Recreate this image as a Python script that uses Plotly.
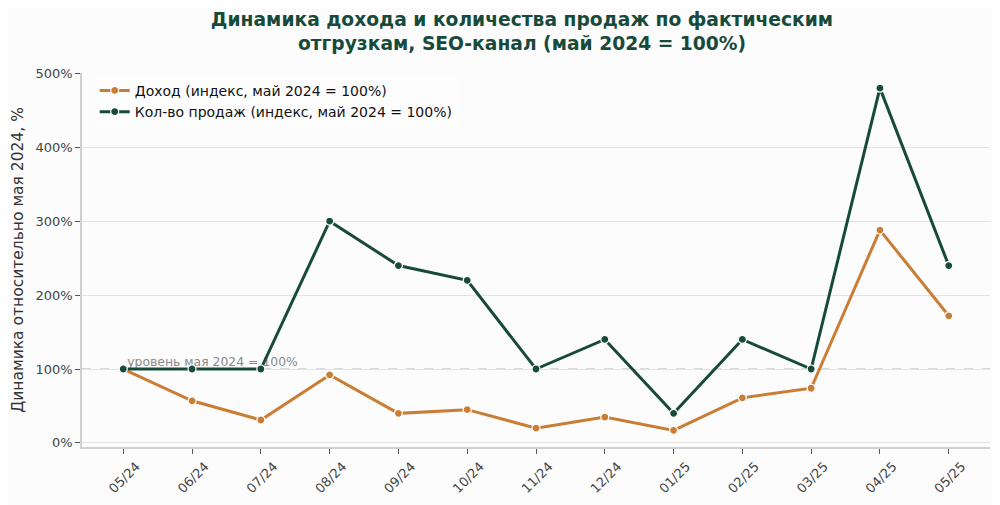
import plotly.graph_objects as go

months = ["05/24", "06/24", "07/24", "08/24", "09/24", "10/24", "11/24",
          "12/24", "01/25", "02/25", "03/25", "04/25", "05/25"]
revenue_idx = [100, 57, 31, 92, 40, 45, 20, 35, 17, 61, 74, 288, 172]
sales_idx = [100, 100, 100, 300, 240, 220, 100, 140, 40, 140, 100, 480, 240]
y_ticks = [0, 100, 200, 300, 400, 500]
y_tick_labels = ["0%", "100%", "200%", "300%", "400%", "500%"]

ORANGE = "#c97d35"
GREEN = "#184a3b"
FONT = "DejaVu Sans"

fig = go.Figure()

# reference label (drawn first so lines sit on top)
fig.add_trace(go.Scatter(
    x=[months[0]], y=[100], mode="text",
    text=[" уровень мая 2024 = 100%"], textposition="top right",
    textfont=dict(family=FONT, size=12.4, color="#8a8a8a"),
    showlegend=False, hoverinfo="skip", cliponaxis=False,
))

fig.add_trace(go.Scatter(
    x=months, y=revenue_idx, mode="lines+markers",
    name="Доход (индекс, май 2024 = 100%)",
    line=dict(color=ORANGE, width=3),
    marker=dict(size=8, color=ORANGE, line=dict(color="white", width=1.2)),
))
fig.add_trace(go.Scatter(
    x=months, y=sales_idx, mode="lines+markers",
    name="Кол-во продаж (индекс, май 2024 = 100%)",
    line=dict(color=GREEN, width=3),
    marker=dict(size=8, color=GREEN, line=dict(color="white", width=1.2)),
))

fig.add_shape(type="line", xref="paper", x0=0, x1=1, yref="y", y0=100, y1=100,
              line=dict(color="#b5b5b5", width=1, dash="dash"), layer="below")

fig.update_layout(
    width=1000, height=505,
    paper_bgcolor="#fcfcfc", plot_bgcolor="#fcfcfc",
    margin=dict(l=74, r=18, t=65, b=66, autoexpand=False),
    font=dict(family=FONT, color="#444444"),
    title=dict(
        text="Динамика дохода и количества продаж по фактическим<br>отгрузкам, SEO-канал (май 2024 = 100%)",
        x=0.514, xanchor="center", yref="container", y=1 - 18 / 505, yanchor="middle",
        font=dict(family=FONT, size=18.7, color=GREEN, weight="bold"),
    ),
    legend=dict(
        x=0.014, y=0.995, xanchor="left", yanchor="top",
        bgcolor="rgba(252,252,252,0.8)", borderwidth=0,
        font=dict(family=FONT, size=14, color="#111111"),
        tracegroupgap=0,
    ),
    xaxis=dict(
        type="category", range=[-0.6, 12.6], automargin=False,
        showgrid=False, showline=True, linecolor="#d0d0d0", linewidth=1.5,
        ticks="outside", ticklen=5, tickcolor="#555555", tickwidth=1,
        tickangle=-45, tickfont=dict(family=FONT, size=13, color="#444444"),
        ticklabelshift=13,
        zeroline=False,
    ),
    yaxis=dict(
        range=[-5.5, 500.5], automargin=False,
        tickvals=y_ticks, ticktext=y_tick_labels,
        showgrid=True, gridcolor="#e3e3e3", gridwidth=1,
        showline=True, linecolor="#d0d0d0", linewidth=1.5,
        ticks="outside", ticklen=5, tickcolor="#555555", tickwidth=1,
        tickfont=dict(family=FONT, size=13, color="#444444"),
        zeroline=False,
        title=dict(text="Динамика относительно мая 2024, %",
                   font=dict(family=FONT, size=15.5, color="#333333"), standoff=8),
    ),
)

fig.write_html("out.html")
